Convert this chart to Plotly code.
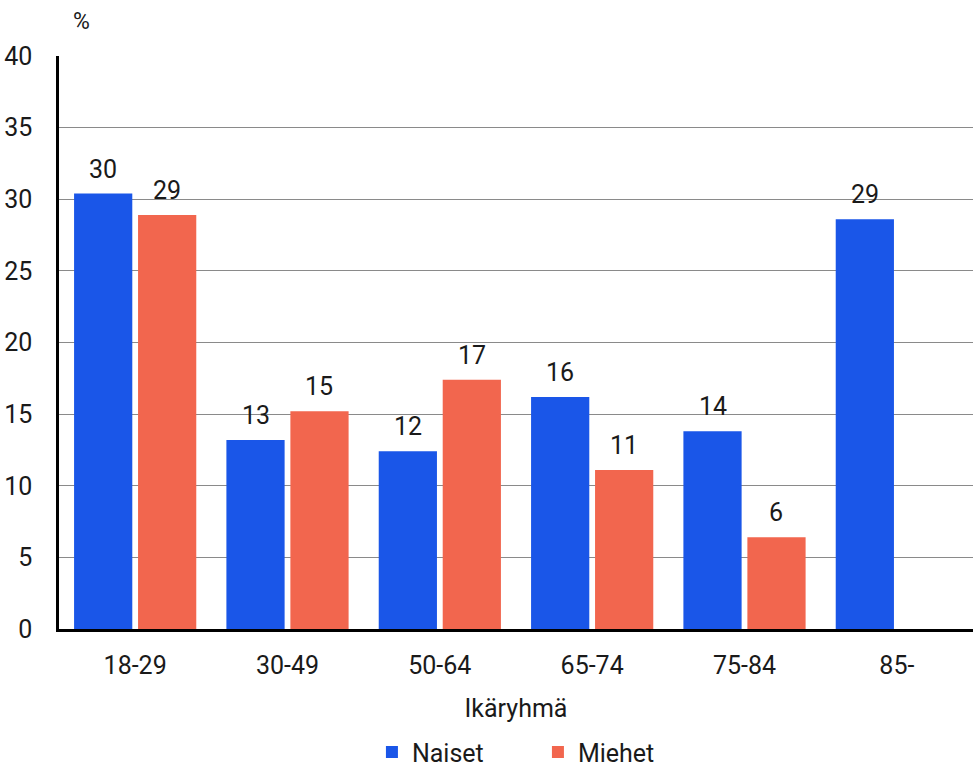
import plotly.graph_objects as go

categories = ["18-29", "30-49", "50-64", "65-74", "75-84", "85-"]
naiset = [30.4, 13.2, 12.4, 16.2, 13.8, 28.6]
miehet = [28.9, 15.2, 17.4, 11.1, 6.4, None]
y_ticks = [0, 5, 10, 15, 20, 25, 30, 35, 40]

BLUE = "#1A56E8"
RED = "#F2664E"
FONT = "Roboto"
TXT = "#1a1a1a"
FS = 25

fig = go.Figure()
fig.add_trace(go.Bar(name="Naiset", x=categories, y=naiset, marker=dict(color=BLUE, line=dict(width=0))))
fig.add_trace(go.Bar(name="Miehet", x=categories, y=miehet, marker=dict(color=RED, line=dict(width=0))))

bargap = 0.16
slot_frac = (1 - bargap) / 2
plot_w = 973 - 59
cat_px = plot_w / len(categories)
shift = slot_frac * cat_px / 2

annotations = []
for vals, sgn in ((naiset, -1), (miehet, 1)):
    for c, v in zip(categories, vals):
        if v is None:
            continue
        annotations.append(dict(x=c, y=v, xref="x", yref="y", text=str(round(v)),
                                showarrow=False, xshift=sgn * shift, yshift=8,
                                yanchor="bottom", font=dict(family=FONT, size=FS, color=TXT)))
annotations.append(dict(x=0, y=1, xref="paper", yref="paper", text="%", showarrow=False,
                        xanchor="left", yanchor="bottom", xshift=12, yshift=19,
                        font=dict(family=FONT, size=FS - 2, color=TXT)))

fig.update_layout(
    width=973, height=767,
    margin=dict(l=59, r=0, t=56, b=138, autoexpand=False),
    paper_bgcolor="white", plot_bgcolor="white",
    barmode="group", bargap=bargap, bargroupgap=0.09,
    font=dict(family=FONT, size=FS, color=TXT),
    showlegend=True,
    legend=dict(orientation="h", x=0.524, xanchor="center", y=-0.215, yanchor="middle",
                font=dict(family=FONT, size=FS, color=TXT), entrywidth=121, itemwidth=30),
    annotations=annotations,
    xaxis=dict(showline=True, linecolor="black", linewidth=2.5, ticks="", showgrid=False,
               automargin=False, ticklabelstandoff=12,
               title=dict(text="Ikäryhmä", standoff=21, font=dict(family=FONT, size=FS, color=TXT)),
               tickfont=dict(family=FONT, size=FS, color=TXT)),
    yaxis=dict(range=[0, 40], tickvals=y_ticks, showline=True, linecolor="black", linewidth=2.5,
               automargin=False,
               showgrid=True, gridcolor="#8a8a8a", gridwidth=1, zeroline=False, ticks="",
               ticklabelstandoff=19, tickfont=dict(family=FONT, size=FS, color=TXT)),
)

fig.write_html("out.html", config={"displayModeBar": False},
               post_script="document.body.style.margin='0';document.body.style.overflow='hidden';")
